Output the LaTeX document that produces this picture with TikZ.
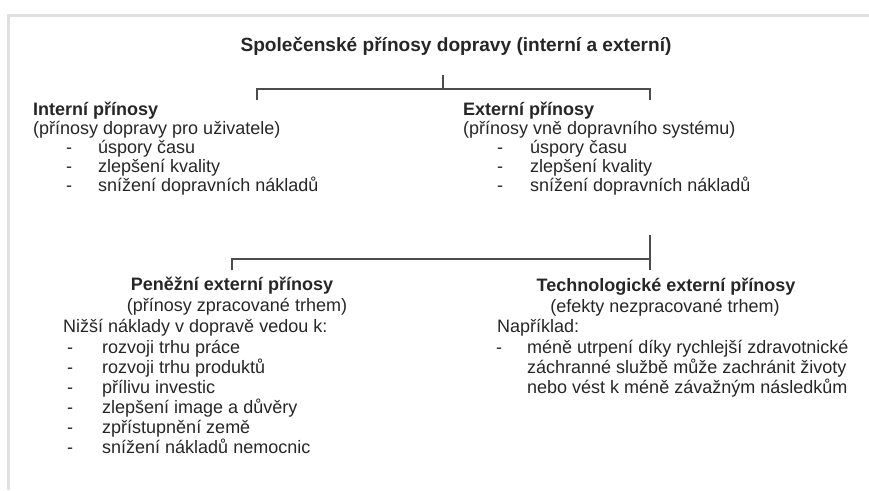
\documentclass[tikz,border=0pt]{standalone}
\usepackage{fontspec}
\setmainfont{Liberation Sans}
\begin{document}
\begin{tikzpicture}[x=1pt,y=-1pt,
  font=\fontsize{18}{20.3}\selectfont,
  txt/.style={inner sep=0pt,anchor=base west,text=black!85},
  head/.style={txt,font=\fontsize{18}{20.3}\selectfont\bfseries},
  link/.style={draw=black!70,line width=1.4pt}]
\useasboundingbox (0,0) rectangle (869,490);
% the frame
\draw[black!12,line width=3pt] (8,490) -- (8,15) -- (869,15);
% the title
\node[head,anchor=base,font=\fontsize{19.1}{21}\selectfont\bfseries] (title) at (456,51) {Společenské přínosy dopravy (interní a externí)};
% the upper bracket
\coordinate (topstub) at (443,75);
\coordinate (topbar) at (443,89);
\coordinate (topleft) at (257,100);
\coordinate (topright) at (650,100);
\draw[link] (topstub) -- (topbar);
\draw[link] (topleft) -- (topleft |- topbar) -- (topright |- topbar) -- (topright);
% internal benefits
\node[head] (intern) at (33,115) {Interní přínosy};
\node[txt] (internsub) at (33,134) {(přínosy dopravy pro uživatele)};
\foreach \t [count=\i] in {úspory času,zlepšení kvality,snížení dopravních nákladů} {
  \node[txt] (interndash\i) at (66,{134+19*\i}) {-};
  \node[txt] (internitem\i) at (98,{134+19*\i}) {\t};
}
% external benefits
\node[head] (extern) at (463,115) {Externí přínosy};
\node[txt] (externsub) at (463,134) {(přínosy vně dopravního systému)};
\foreach \t [count=\i] in {úspory času,zlepšení kvality,snížení dopravních nákladů} {
  \node[txt] (externdash\i) at (497,{134+19*\i}) {-};
  \node[txt] (externitem\i) at (530,{134+19*\i}) {\t};
}
% the lower bracket
\coordinate (botstub) at (650,235);
\coordinate (botbar) at (650,259);
\coordinate (botleft) at (232,270);
\coordinate (botright) at (650,270);
\draw[link] (botstub) -- (botright);
\draw[link] (botleft) -- (botleft |- botbar) -- (botbar);
% monetary external benefits
\node[head,anchor=base] (money) at (232,290) {Peněžní externí přínosy};
\node[txt,anchor=base] (moneysub) at (237,311) {(přínosy zpracované trhem)};
\node[txt] (moneyintro) at (63,332) {Nižší náklady v dopravě vedou k:};
\foreach \t [count=\i] in {rozvoji trhu práce,rozvoji trhu produktů,přílivu investic,
    zlepšení image a důvěry,zpřístupnění země,snížení nákladů nemocnic} {
  \node[txt] (moneydash\i) at (67,{333+20*\i}) {-};
  \node[txt] (moneyitem\i) at (102,{333+20*\i}) {\t};
}
% technological external benefits
\node[head,anchor=base] (tech) at (666,291) {Technologické externí přínosy};
\node[txt,anchor=base] (techsub) at (665,312) {(efekty nezpracované trhem)};
\node[txt] (techintro) at (497,332) {Například:};
\node[txt] (techdash) at (496,353) {-};
\foreach \t [count=\i] in {méně utrpení díky rychlejší zdravotnické,
    záchranné službě může zachránit životy,nebo vést k méně závažným následkům}
  \node[txt] (techitem\i) at (527,{333+20*\i}) {\t};
\end{tikzpicture}
\end{document}
